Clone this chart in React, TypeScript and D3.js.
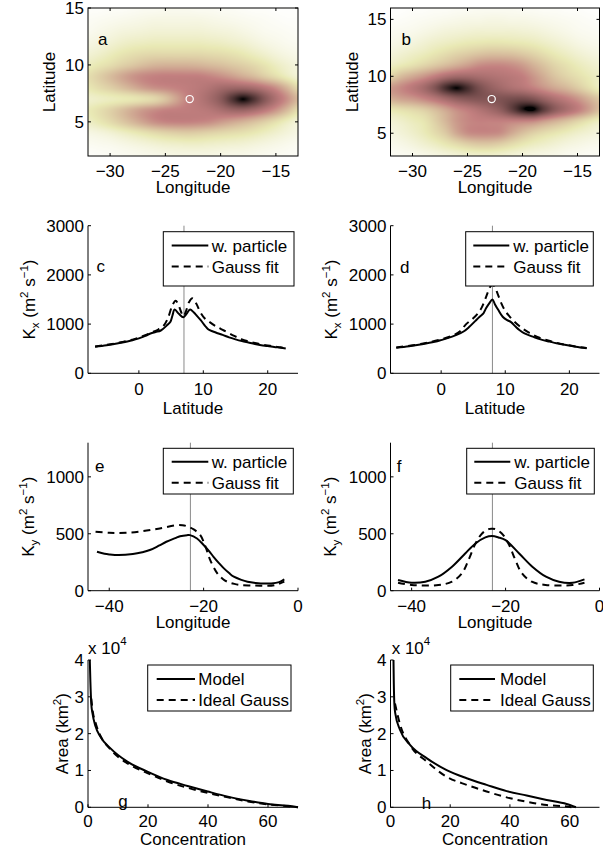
import React, { useMemo } from "react";
import * as d3 from "d3";

const FONT = '"Liberation Sans", Arial, Helvetica, sans-serif';
const FS = 17;
const SUP = 11.5;

// ---------------- heat map data (normalised concentration, 0..1) ----------------
const mapLons = [-32, -31, -30, -29, -28, -27, -26, -25, -24, -23, -22, -21, -20, -19, -18, -17, -16, -15, -14, -13];
const mapLatsA = [15, 14, 13, 12, 11, 10, 9, 8, 7, 6, 5, 4, 3, 2];
const mapLatsB = [16, 15, 14, 13, 12, 11, 10, 9, 8, 7, 6, 5, 4, 3];

const fieldA = [
  [0.02, 0.02, 0.03, 0.03, 0.04, 0.05, 0.05, 0.06, 0.06, 0.06, 0.05, 0.05, 0.04, 0.04, 0.03, 0.02, 0.02, 0.01, 0.01, 0.01],
  [0.04, 0.05, 0.06, 0.07, 0.08, 0.09, 0.1, 0.1, 0.1, 0.1, 0.1, 0.09, 0.08, 0.07, 0.06, 0.05, 0.04, 0.03, 0.02, 0.02],
  [0.06, 0.08, 0.1, 0.12, 0.13, 0.14, 0.15, 0.15, 0.15, 0.15, 0.15, 0.14, 0.13, 0.12, 0.1, 0.08, 0.06, 0.05, 0.04, 0.03],
  [0.1, 0.12, 0.15, 0.18, 0.2, 0.21, 0.22, 0.22, 0.22, 0.22, 0.22, 0.21, 0.2, 0.18, 0.16, 0.13, 0.1, 0.08, 0.06, 0.05],
  [0.15, 0.18, 0.22, 0.26, 0.29, 0.31, 0.32, 0.32, 0.32, 0.32, 0.32, 0.31, 0.3, 0.28, 0.25, 0.21, 0.17, 0.13, 0.1, 0.08],
  [0.22, 0.26, 0.3, 0.35, 0.39, 0.43, 0.46, 0.47, 0.47, 0.47, 0.46, 0.44, 0.42, 0.39, 0.36, 0.32, 0.27, 0.21, 0.16, 0.12],
  [0.3, 0.36, 0.43, 0.5, 0.56, 0.6, 0.62, 0.63, 0.63, 0.63, 0.63, 0.61, 0.58, 0.54, 0.49, 0.44, 0.37, 0.3, 0.22, 0.15],
  [0.26, 0.31, 0.36, 0.42, 0.48, 0.54, 0.58, 0.6, 0.62, 0.64, 0.66, 0.69, 0.73, 0.75, 0.75, 0.72, 0.66, 0.58, 0.46, 0.32],
  [0.18, 0.2, 0.22, 0.24, 0.26, 0.29, 0.33, 0.41, 0.52, 0.62, 0.67, 0.73, 0.81, 0.93, 1.0, 0.94, 0.82, 0.7, 0.58, 0.45],
  [0.24, 0.29, 0.35, 0.42, 0.49, 0.55, 0.59, 0.62, 0.63, 0.64, 0.65, 0.67, 0.71, 0.75, 0.76, 0.72, 0.65, 0.56, 0.44, 0.3],
  [0.2, 0.25, 0.31, 0.38, 0.45, 0.52, 0.58, 0.61, 0.62, 0.62, 0.61, 0.59, 0.55, 0.51, 0.47, 0.42, 0.36, 0.29, 0.21, 0.14],
  [0.1, 0.12, 0.15, 0.19, 0.23, 0.27, 0.31, 0.34, 0.36, 0.37, 0.36, 0.34, 0.32, 0.3, 0.28, 0.25, 0.21, 0.17, 0.13, 0.1],
  [0.05, 0.06, 0.07, 0.09, 0.11, 0.13, 0.15, 0.17, 0.18, 0.19, 0.19, 0.18, 0.17, 0.16, 0.15, 0.13, 0.11, 0.09, 0.07, 0.05],
  [0.02, 0.03, 0.04, 0.05, 0.06, 0.07, 0.08, 0.09, 0.1, 0.1, 0.1, 0.1, 0.09, 0.08, 0.08, 0.07, 0.06, 0.05, 0.04, 0.03],
];

const fieldB = [
  [0.01, 0.01, 0.02, 0.02, 0.03, 0.03, 0.04, 0.04, 0.05, 0.05, 0.05, 0.05, 0.04, 0.04, 0.03, 0.03, 0.02, 0.02, 0.01, 0.01],
  [0.02, 0.03, 0.04, 0.05, 0.06, 0.07, 0.08, 0.09, 0.09, 0.1, 0.1, 0.09, 0.09, 0.08, 0.07, 0.06, 0.05, 0.04, 0.03, 0.02],
  [0.05, 0.06, 0.07, 0.09, 0.11, 0.13, 0.14, 0.15, 0.16, 0.16, 0.16, 0.16, 0.15, 0.14, 0.12, 0.1, 0.08, 0.06, 0.05, 0.04],
  [0.08, 0.1, 0.12, 0.15, 0.18, 0.2, 0.22, 0.24, 0.25, 0.26, 0.26, 0.25, 0.24, 0.22, 0.19, 0.16, 0.13, 0.1, 0.08, 0.07],
  [0.13, 0.16, 0.19, 0.22, 0.26, 0.3, 0.34, 0.37, 0.4, 0.42, 0.42, 0.41, 0.38, 0.34, 0.29, 0.24, 0.2, 0.16, 0.13, 0.11],
  [0.2, 0.24, 0.28, 0.33, 0.38, 0.43, 0.48, 0.53, 0.58, 0.6, 0.6, 0.58, 0.54, 0.47, 0.4, 0.33, 0.28, 0.23, 0.19, 0.16],
  [0.35, 0.44, 0.5, 0.56, 0.63, 0.7, 0.74, 0.74, 0.72, 0.7, 0.68, 0.66, 0.63, 0.56, 0.48, 0.4, 0.34, 0.29, 0.24, 0.2],
  [0.55, 0.6, 0.66, 0.73, 0.83, 0.95, 1.0, 0.95, 0.86, 0.79, 0.74, 0.7, 0.67, 0.62, 0.56, 0.5, 0.45, 0.38, 0.3, 0.22],
  [0.48, 0.52, 0.55, 0.6, 0.66, 0.73, 0.79, 0.82, 0.83, 0.83, 0.84, 0.86, 0.87, 0.84, 0.77, 0.7, 0.64, 0.57, 0.48, 0.4],
  [0.25, 0.28, 0.31, 0.35, 0.42, 0.5, 0.58, 0.63, 0.68, 0.73, 0.79, 0.89, 0.98, 1.0, 0.9, 0.79, 0.71, 0.63, 0.53, 0.42],
  [0.15, 0.18, 0.22, 0.26, 0.35, 0.45, 0.55, 0.6, 0.62, 0.62, 0.62, 0.61, 0.6, 0.58, 0.52, 0.46, 0.4, 0.33, 0.26, 0.2],
  [0.11, 0.14, 0.18, 0.23, 0.3, 0.38, 0.5, 0.58, 0.6, 0.6, 0.58, 0.5, 0.42, 0.35, 0.3, 0.26, 0.22, 0.18, 0.15, 0.12],
  [0.07, 0.09, 0.12, 0.16, 0.2, 0.25, 0.3, 0.35, 0.38, 0.38, 0.35, 0.3, 0.25, 0.21, 0.18, 0.15, 0.12, 0.1, 0.08, 0.07],
  [0.04, 0.05, 0.06, 0.08, 0.1, 0.12, 0.14, 0.16, 0.17, 0.17, 0.16, 0.14, 0.12, 0.1, 0.09, 0.08, 0.06, 0.05, 0.04, 0.04],
];

const releaseA = { lon: -22.8, lat: 7 };
const releaseB = { lon: -22.8, lat: 8 };

// ---------------- K_x vs latitude ----------------
const cPartLat = [-6.8, -5, -3, -1, 0, 1, 1.8, 2.6, 3.4, 4.4, 4.9, 5.2, 5.55, 6.2, 6.9, 7.4, 7.95, 8.5, 9.0, 9.6, 10.3, 10.8, 11.5, 12.2, 13, 14, 15, 16, 17, 18, 19, 20, 21, 22, 22.8];
const cPartK = [540, 570, 615, 670, 710, 760, 810, 840, 870, 980, 1050, 1170, 1295, 1210, 1140, 1210, 1295, 1240, 1170, 1080, 960, 890, 850, 815, 780, 730, 690, 655, 625, 595, 570, 555, 535, 520, 505];
const cGaussLat = [-6.8, -5, -3, -1, 0, 1, 2, 3, 3.8, 4.5, 5.2, 5.7, 6.2, 6.6, 6.9, 7.3, 7.8, 8.3, 8.9, 9.5, 10.2, 10.9, 11.9, 13.2, 14.8, 16, 17, 18, 19, 20, 21, 22, 22.8];
const cGaussK = [545, 578, 625, 685, 725, 775, 830, 890, 960, 1120, 1380, 1476, 1370, 1230, 1160, 1260, 1450, 1523, 1420, 1250, 1120, 1050, 960, 870, 760, 690, 650, 615, 585, 565, 545, 528, 512];

const dPartLat = [-7, -5, -3, -1, 0, 1, 2.3, 3.5, 4.4, 5.3, 6.0, 6.6, 7.0, 7.5, 8.0, 8.4, 8.9, 9.6, 10.3, 10.9, 11.6, 12.2, 13, 14.3, 15.5, 16.9, 18, 19.5, 21, 22.7];
const dPartK = [520, 550, 590, 640, 675, 715, 775, 850, 945, 1060, 1150, 1220, 1320, 1420, 1500, 1400, 1290, 1150, 1080, 1040, 950, 880, 810, 745, 690, 645, 610, 575, 540, 508];
const dGaussLat = [-7, -3, 0, 2, 3, 3.9, 5.0, 5.8, 6.3, 6.8, 7.2, 7.6, 8.0, 8.4, 8.8, 9.3, 9.9, 10.5, 11.2, 12.2, 13.5, 15, 17, 19, 21, 22.7];
const dGaussK = [525, 600, 690, 780, 860, 1000, 1117, 1230, 1330, 1480, 1620, 1750, 1800, 1750, 1620, 1450, 1290, 1180, 1080, 960, 840, 740, 655, 590, 545, 512];

// ---------------- K_y vs longitude ----------------
const ePartLon = [-42.6, -41, -40, -38, -35, -33, -31.4, -29.5, -27.9, -26, -25, -23.5, -22.9, -21.4, -20, -18.8, -17.9, -16.8, -15.7, -14.6, -13.6, -12, -10.7, -9, -7.9, -5.7, -4, -2.9];
const ePartK = [342, 325, 319, 313, 322, 338, 357, 395, 430, 462, 478, 488, 488, 459, 401, 345, 298, 245, 196, 155, 123, 95, 79, 68, 64, 64, 75, 99];
const eGaussLon = [-42.9, -40, -36.4, -32.9, -29.3, -25.7, -24.5, -23.6, -22.1, -20.7, -19.6, -18.6, -17.1, -16, -15, -13.5, -12.1, -10, -7.9, -5, -2.9];
const eGaussK = [518, 509, 509, 523, 547, 576, 575, 567, 538, 488, 386, 269, 152, 105, 79, 60, 50, 46, 44, 48, 79];

const fPartLon = [-42.9, -40, -37.1, -34.3, -31.4, -28.6, -26.4, -24.3, -22.9, -21.5, -20, -17.1, -14.3, -11.4, -8.6, -5.7, -3.2];
const fPartK = [94, 70, 79, 123, 211, 327, 415, 468, 480, 468, 444, 327, 211, 123, 79, 70, 99];
const fGaussLon = [-42.9, -40, -34.3, -31.4, -29.3, -27.9, -26.4, -25, -23.6, -22.9, -22.2, -20.8, -19.4, -17.9, -16.5, -14.4, -11.5, -5.7, -3.2];
const fGaussK = [70, 50, 50, 79, 152, 269, 415, 503, 541, 544, 541, 503, 415, 269, 152, 79, 50, 50, 70];

// ---------------- Area vs concentration (km^2) ----------------
const gModelC = [0.6, 0.8, 1.1, 1.5, 2.5, 4.1, 7.5, 13.1, 19.8, 26.5, 33.2, 39.9, 46.6, 53.3, 60, 66.7, 70];
const gModelA = [40000, 34000, 28000, 25500, 22000, 19200, 16000, 12400, 9700, 7400, 5800, 4300, 2900, 1800, 900, 400, 0];
const gGaussC = [1.1, 1.6, 2.5, 4.1, 7.5, 13, 19.8, 26.5, 33.2, 40, 46.6, 53.3, 60, 66.7, 70];
const gGaussA = [29500, 26000, 23000, 19500, 15700, 12000, 9300, 7000, 5300, 3900, 2700, 1600, 800, 300, 0];

const hModelC = [1.0, 1.1, 1.3, 1.6, 3.2, 6.6, 12.2, 18.8, 25.5, 32.2, 38.9, 45.6, 52.3, 59, 62.1];
const hModelA = [40000, 34000, 28000, 25500, 21000, 16900, 13300, 10100, 7900, 6100, 4400, 3200, 2000, 900, 0];
const hGaussC = [1.5, 3.2, 6.6, 12.2, 18.8, 25.5, 32.2, 38.9, 45.6, 52.3, 59, 60.6];
const hGaussA = [28200, 22500, 16800, 12400, 8300, 6100, 4300, 2700, 1500, 600, 200, 0];

// ---------------- ticks / labels ----------------
const lonTicksMap = [-30, -25, -20, -15];
const latTicksMap = [5, 10, 15];
const latTicksK = [0, 10, 20];
const kxTicks = [0, 1000, 2000, 3000];
const lonTicksK = [-40, -20, 0];
const kyTicks = [0, 500, 1000];
const concTicks = [0, 20, 40, 60];
const areaTicks = [0, 10000, 20000, 30000, 40000];
const kLegend = ["w. particle", "Gauss fit"];
const areaLegend = ["Model", "Ideal Gauss"];

// ---------------- layout ----------------
const COLS = [
  { left: 88, right: 298 },
  { left: 390.5, right: 599.5 },
];
const ROWS = [
  { top: 8, bottom: 156, xtl: 20.5, xl: 37, yl: 33 },
  { top: 225.7, bottom: 373.3, xtl: 21.7, xl: 41, yl: 53.5 },
  { top: 442.7, bottom: 590.7, xtl: 21, xl: 37.5, yl: 54.5 },
  { top: 660, bottom: 807.3, xtl: 19.5, xl: 38, yl: 20 },
];
const TICK = 3;
const fmt = d3.format("d");

// MATLAB "pink" colormap, reversed (low = white, high = black)
function pinkRev(v: number): string {
  const c = (x: number) => Math.max(0, Math.min(1, x));
  const t = 1 - c(v);
  const hr = Math.min(1, t / 0.375);
  const hg = c((t - 0.375) / 0.375);
  const hb = c((t - 0.75) / 0.25);
  const r = Math.sqrt((2 * t + hr) / 3);
  const g = Math.sqrt((2 * t + hg) / 3);
  const b = Math.sqrt((2 * t + hb) / 3);
  return `rgb(${Math.round(r * 255)},${Math.round(g * 255)},${Math.round(b * 255)})`;
}
const colorScale = d3.scaleSequential(pinkRev).domain([0, 1]);

function cr(p0: number, p1: number, p2: number, p3: number, t: number) {
  return 0.5 * (2 * p1 + (-p0 + p2) * t + (2 * p0 - 5 * p1 + 4 * p2 - p3) * t * t + (-p0 + 3 * p1 - 3 * p2 + p3) * t * t * t);
}
function sampleField(field: number[][], fi: number, fj: number) {
  const nj = field.length, ni = field[0].length;
  const i0 = Math.floor(fi), j0 = Math.floor(fj);
  const tx = fi - i0, ty = fj - j0;
  const g = (i: number, j: number) => field[Math.max(0, Math.min(nj - 1, j))][Math.max(0, Math.min(ni - 1, i))];
  const rows: number[] = [];
  for (let m = -1; m <= 2; m++) rows.push(cr(g(i0 - 1, j0 + m), g(i0, j0 + m), g(i0 + 1, j0 + m), g(i0 + 2, j0 + m), tx));
  return cr(rows[0], rows[1], rows[2], rows[3], ty);
}

const txt = { fontFamily: FONT, fontSize: FS, fill: "#000" } as const;

function HeatPanel(props: {
  col: number; row: number; yDomain: [number, number]; lats: number[]; field: number[][];
  release: { lon: number; lat: number }; letter: string; letterPos: [number, number];
}) {
  const { left, right } = COLS[props.col];
  const R = ROWS[props.row];
  const xs = d3.scaleLinear().domain([-32, -13]).range([left, right]);
  const ys = d3.scaleLinear().domain(props.yDomain).range([R.bottom, R.top]);
  const href = useMemo(() => {
    const W = Math.round(right - left), H = Math.round(R.bottom - R.top);
    const cv = document.createElement("canvas");
    cv.width = W; cv.height = H;
    const ctx = cv.getContext("2d")!;
    const img = ctx.createImageData(W, H);
    const gi = d3.scaleLinear().domain([mapLons[0], mapLons[mapLons.length - 1]]).range([0, mapLons.length - 1]);
    const gj = d3.scaleLinear().domain([props.lats[0], props.lats[props.lats.length - 1]]).range([0, props.lats.length - 1]);
    for (let py = 0; py < H; py++) {
      const lat = ys.invert(R.top + ((py + 0.5) * (R.bottom - R.top)) / H);
      for (let px = 0; px < W; px++) {
        const lon = xs.invert(left + ((px + 0.5) * (right - left)) / W);
        const v = Math.max(0, Math.min(1, sampleField(props.field, gi(lon), gj(lat))));
        const c = d3.rgb(colorScale(v));
        const k = (py * W + px) * 4;
        img.data[k] = c.r; img.data[k + 1] = c.g; img.data[k + 2] = c.b; img.data[k + 3] = 255;
      }
    }
    ctx.putImageData(img, 0, 0);
    return cv.toDataURL();
  }, []);
  return (
    <g>
      <image href={href} x={left} y={R.top} width={right - left} height={R.bottom - R.top} preserveAspectRatio="none" />
      <circle cx={xs(props.release.lon)} cy={ys(props.release.lat)} r={3.6} fill="none" stroke="#fff" strokeWidth={1.2} />
      <rect x={left} y={R.top} width={right - left} height={R.bottom - R.top} fill="none" stroke="#000" strokeWidth={1} />
      {lonTicksMap.map((t) => (
        <g key={"x" + t}>
          <line x1={xs(t)} x2={xs(t)} y1={R.bottom} y2={R.bottom - TICK} stroke="#000" />
          <line x1={xs(t)} x2={xs(t)} y1={R.top} y2={R.top + TICK} stroke="#000" />
          <text {...txt} x={xs(t)} y={R.bottom + R.xtl} textAnchor="middle">{fmt(t)}</text>
        </g>
      ))}
      {latTicksMap.map((t) => (
        <g key={"y" + t}>
          <line x1={left} x2={left + TICK} y1={ys(t)} y2={ys(t)} stroke="#000" />
          <line x1={right} x2={right - TICK} y1={ys(t)} y2={ys(t)} stroke="#000" />
          <text {...txt} x={left - 4} y={ys(t) + 6} textAnchor="end">{fmt(t)}</text>
        </g>
      ))}
      <text {...txt} x={(left + right) / 2} y={R.bottom + R.xl} textAnchor="middle">Longitude</text>
      <text {...txt} textAnchor="middle" transform={`translate(${left - R.yl},${(R.top + R.bottom) / 2}) rotate(-90)`}>Latitude</text>
      <text {...txt} x={props.letterPos[0]} y={props.letterPos[1]}>{props.letter}</text>
    </g>
  );
}

type Series = { xs: number[]; ys: number[]; dashed: boolean };

function LinePanel(props: {
  col: number; row: number; xDomain: [number, number]; yDomain: [number, number];
  xTicks: number[]; yTicks: number[]; yFmt: (v: number) => string;
  series: Series[]; curve: d3.CurveFactory; vline?: number;
  legend: { labels: string[]; box: [number, number, number, number]; rows: [number, number]; line: [number, number]; text: number };
  letter: string; letterPos: [number, number];
  xLabel: string; yLabel: React.ReactNode; extra?: React.ReactNode;
}) {
  const { left, right } = COLS[props.col];
  const R = ROWS[props.row];
  const xs = d3.scaleLinear().domain(props.xDomain).range([left, right]);
  const ys = d3.scaleLinear().domain(props.yDomain).range([R.bottom, R.top]);
  const lg = props.legend;
  return (
    <g>
      {props.vline !== undefined && (
        <line x1={xs(props.vline)} x2={xs(props.vline)} y1={R.top} y2={R.bottom} stroke="#8a8a8a" strokeWidth={1} />
      )}
      {props.series.map((s, i) => {
        const pts = s.xs.map((x, k) => [x, s.ys[k]] as [number, number]);
        const path = d3.line<[number, number]>().x((d) => xs(d[0])).y((d) => ys(d[1])).curve(props.curve)(pts) || "";
        return <path key={i} d={path} fill="none" stroke="#000" strokeWidth={2} strokeDasharray={s.dashed ? "7 5" : undefined} />;
      })}
      <line x1={left} x2={left} y1={R.top} y2={R.bottom} stroke="#000" />
      <line x1={left} x2={right} y1={R.bottom} y2={R.bottom} stroke="#000" />
      {props.xTicks.map((t) => (
        <g key={"x" + t}>
          <line x1={xs(t)} x2={xs(t)} y1={R.bottom} y2={R.bottom - TICK} stroke="#000" />
          <text {...txt} x={xs(t)} y={R.bottom + R.xtl} textAnchor="middle">{fmt(t)}</text>
        </g>
      ))}
      {props.yTicks.map((t) => (
        <g key={"y" + t}>
          <line x1={left} x2={left + TICK} y1={ys(t)} y2={ys(t)} stroke="#000" />
          <text {...txt} x={left - 4} y={ys(t) + 6} textAnchor="end">{props.yFmt(t)}</text>
        </g>
      ))}
      <text {...txt} x={(left + right) / 2} y={R.bottom + R.xl} textAnchor="middle">{props.xLabel}</text>
      <text {...txt} textAnchor="middle" transform={`translate(${left - R.yl},${(R.top + R.bottom) / 2}) rotate(-90)`}>{props.yLabel}</text>
      <text {...txt} x={props.letterPos[0]} y={props.letterPos[1]}>{props.letter}</text>
      {props.extra}
      <rect x={lg.box[0]} y={lg.box[1]} width={lg.box[2]} height={lg.box[3]} fill="#fff" stroke="#000" strokeWidth={1} />
      {lg.labels.map((l, i) => {
        const yy = lg.box[1] + lg.rows[i];
        return (
          <g key={l}>
            <line x1={lg.box[0] + lg.line[0]} x2={lg.box[0] + lg.line[1]} y1={yy} y2={yy} stroke="#000" strokeWidth={2} strokeDasharray={i === 1 ? "7 5" : undefined} />
            <text {...txt} x={lg.box[0] + lg.text} y={yy + 6}>{l}</text>
          </g>
        );
      })}
    </g>
  );
}

const kxLabel = (
  <>
    <tspan>K</tspan>
    <tspan dy={4} fontSize={SUP}>x</tspan>
    <tspan dy={-4}> (m</tspan>
    <tspan dy={-7} fontSize={SUP}>2</tspan>
    <tspan dy={7}> s</tspan>
    <tspan dy={-7} fontSize={SUP}>−1</tspan>
    <tspan dy={7}>)</tspan>
  </>
);
const kyLabel = (
  <>
    <tspan>K</tspan>
    <tspan dy={4} fontSize={SUP}>y</tspan>
    <tspan dy={-4}> (m</tspan>
    <tspan dy={-7} fontSize={SUP}>2</tspan>
    <tspan dy={7}> s</tspan>
    <tspan dy={-7} fontSize={SUP}>−1</tspan>
    <tspan dy={7}>)</tspan>
  </>
);
const areaLabel = (
  <>
    <tspan>Area (km</tspan>
    <tspan dy={-7} fontSize={SUP}>2</tspan>
    <tspan dy={7}>)</tspan>
  </>
);
const areaFmt = (v: number) => fmt(v / 10000);

function Exp({ x }: { x: number }) {
  return (
    <text {...txt} x={x} y={654}>
      x 10<tspan dy={-9} fontSize={SUP}>4</tspan>
    </text>
  );
}

export default function App() {
  const cr05 = d3.curveCatmullRom.alpha(0.5);
  return (
    <svg width={603} height={854} style={{ position: "absolute", left: 0, top: 0, background: "#fff" }}>
      <rect x={0} y={0} width={603} height={854} fill="#fff" />
      <HeatPanel col={0} row={0} yDomain={[2, 15]} lats={mapLatsA} field={fieldA} release={releaseA} letter="a" letterPos={[98, 44.5]} />
      <HeatPanel col={1} row={0} yDomain={[3, 16]} lats={mapLatsB} field={fieldB} release={releaseB} letter="b" letterPos={[401.5, 45]} />

      <LinePanel col={0} row={1} xDomain={[-7.9, 24.7]} yDomain={[0, 3000]} xTicks={latTicksK} yTicks={kxTicks} yFmt={fmt}
        series={[{ xs: cPartLat, ys: cPartK, dashed: false }, { xs: cGaussLat, ys: cGaussK, dashed: true }]}
        curve={cr05} vline={releaseA.lat}
        legend={{ labels: kLegend, box: [163.3, 231.7, 130.7, 54.3], rows: [13.8, 34.8], line: [8.4, 45], text: 48.4 }}
        letter="c" letterPos={[96.5, 271.5]} xLabel="Latitude" yLabel={kxLabel} />
      <LinePanel col={1} row={1} xDomain={[-7.9, 24.7]} yDomain={[0, 3000]} xTicks={latTicksK} yTicks={kxTicks} yFmt={fmt}
        series={[{ xs: dPartLat, ys: dPartK, dashed: false }, { xs: dGaussLat, ys: dGaussK, dashed: true }]}
        curve={cr05} vline={releaseB.lat}
        legend={{ labels: kLegend, box: [465.7, 231.7, 127.6, 54.3], rows: [13.8, 34.8], line: [7.6, 43.6], text: 47.6 }}
        letter="d" letterPos={[400, 272.5]} xLabel="Latitude" yLabel={kxLabel} />

      <LinePanel col={0} row={2} xDomain={[-44.5, 0]} yDomain={[0, 1300]} xTicks={lonTicksK} yTicks={kyTicks} yFmt={fmt}
        series={[{ xs: ePartLon, ys: ePartK, dashed: false }, { xs: eGaussLon, ys: eGaussK, dashed: true }]}
        curve={cr05} vline={releaseA.lon}
        legend={{ labels: kLegend, box: [163.3, 448.3, 130, 45.7], rows: [13.4, 34.4], line: [8.4, 45], text: 48.4 }}
        letter="e" letterPos={[95, 471.7]} xLabel="Longitude" yLabel={kyLabel} />
      <LinePanel col={1} row={2} xDomain={[-44.5, 0]} yDomain={[0, 1300]} xTicks={lonTicksK} yTicks={kyTicks} yFmt={fmt}
        series={[{ xs: fPartLon, ys: fPartK, dashed: false }, { xs: fGaussLon, ys: fGaussK, dashed: true }]}
        curve={cr05} vline={releaseB.lon}
        legend={{ labels: kLegend, box: [466.7, 448.3, 127.6, 45.7], rows: [13.4, 34.4], line: [7.6, 43.6], text: 47.6 }}
        letter="f" letterPos={[396.7, 471.7]} xLabel="Longitude" yLabel={kyLabel} />

      <LinePanel col={0} row={3} xDomain={[0, 70]} yDomain={[0, 40000]} xTicks={concTicks} yTicks={areaTicks} yFmt={areaFmt}
        series={[{ xs: gModelC, ys: gModelA, dashed: false }, { xs: gGaussC, ys: gGaussA, dashed: true }]}
        curve={d3.curveMonotoneX}
        legend={{ labels: areaLegend, box: [147.7, 665, 143.3, 46], rows: [14, 35], line: [9, 47.3], text: 50.6 }}
        letter="g" letterPos={[118.3, 807]} xLabel="Concentration" yLabel={areaLabel} extra={<Exp x={88} />} />
      <LinePanel col={1} row={3} xDomain={[0, 70]} yDomain={[0, 40000]} xTicks={concTicks} yTicks={areaTicks} yFmt={areaFmt}
        series={[{ xs: hModelC, ys: hModelA, dashed: false }, { xs: hGaussC, ys: hGaussA, dashed: true }]}
        curve={d3.curveMonotoneX}
        legend={{ labels: areaLegend, box: [450.7, 665, 142.6, 46], rows: [14, 35], line: [8.6, 44.3], text: 49.3 }}
        letter="h" letterPos={[421.7, 808.5]} xLabel="Concentration" yLabel={areaLabel} extra={<Exp x={391.7} />} />
    </svg>
  );
}
